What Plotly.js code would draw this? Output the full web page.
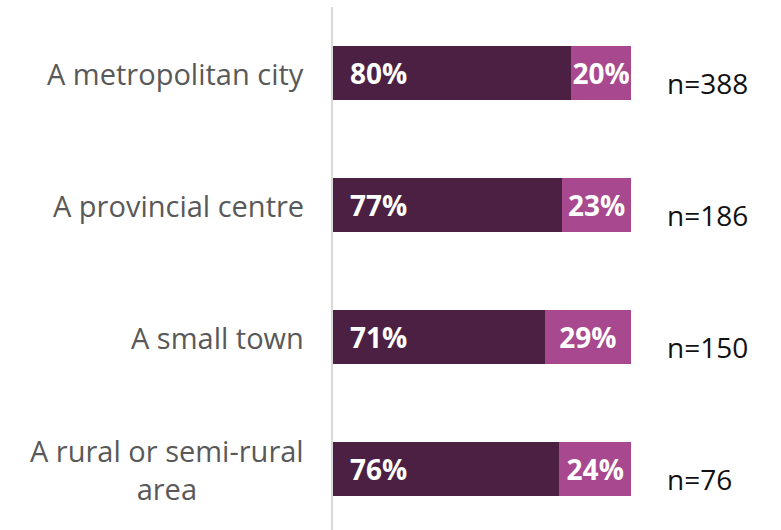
<!DOCTYPE html>
<html><head><meta charset="utf-8">
<script src="https://cdn.plot.ly/plotly-3.0.1.min.js"></script>
<style>html,body{margin:0;padding:0;background:#fff}</style>
</head><body>
<div id="chart" style="width:781px;height:530px"></div>
<script>
const categories = ["A metropolitan city", "A provincial centre", "A small town", "A rural or semi-rural<br>area"];
const yesValues = [80, 77, 71, 76];
const noValues = [20, 23, 29, 24];
const nLabels = ["n=388", "n=186", "n=150", "n=76"];

const darkColor = "#4B2042";
const lightColor = "#A8488E";
const font = "'Open Sans', Roboto, sans-serif";

const traces = [
  {
    type: "bar", orientation: "h", y: categories, x: yesValues,
    marker: {color: darkColor}, width: 0.41,
    hoverinfo: "skip", textposition: "none"
  },
  {
    type: "bar", orientation: "h", y: categories, x: noValues,
    marker: {color: lightColor}, width: 0.41,
    text: noValues.map(v => v + "%"),
    textposition: "inside", insidetextanchor: "middle", constraintext: "none",
    textfont: {family: font, size: 28, color: "#fff", weight: 700},
    hoverinfo: "skip"
  }
];

const annotations = [];
categories.forEach((c, i) => {
  annotations.push({
    x: 0, xref: "paper", y: c, yref: "y", xanchor: "right", yanchor: "middle",
    xshift: -27, text: c, showarrow: false, align: "center",
    font: {family: font, size: 29, color: "#595959"}
  });
  annotations.push({
    x: 5, xref: "x", y: c, yref: "y", xanchor: "left", yanchor: "middle",
    text: yesValues[i] + "%", showarrow: false,
    font: {family: font, size: 28, color: "#fff", weight: 700}
  });
  annotations.push({
    x: 1, xref: "paper", y: c, yref: "y", xanchor: "left", yanchor: "middle",
    xshift: 34, yshift: -10, text: nLabels[i], showarrow: false,
    font: {family: font, size: 28, color: "#111"}
  });
});

const layout = {
  width: 781, height: 530,
  margin: {l: 333, r: 150, t: 7, b: 0},
  barmode: "stack", bargap: 0.59,
  showlegend: false,
  paper_bgcolor: "#fff", plot_bgcolor: "#fff",
  xaxis: {range: [0, 100], showgrid: false, zeroline: false, showticklabels: false, showline: false, fixedrange: true},
  yaxis: {type: "category", range: [3.462, -0.5], showgrid: false, zeroline: false,
          showticklabels: false, showline: true, linecolor: "#d9d9d9", linewidth: 2, ticks: ""},
  annotations: annotations
};

Plotly.newPlot("chart", traces, layout, {displayModeBar: false, staticPlot: true});
</script>
</body></html>
